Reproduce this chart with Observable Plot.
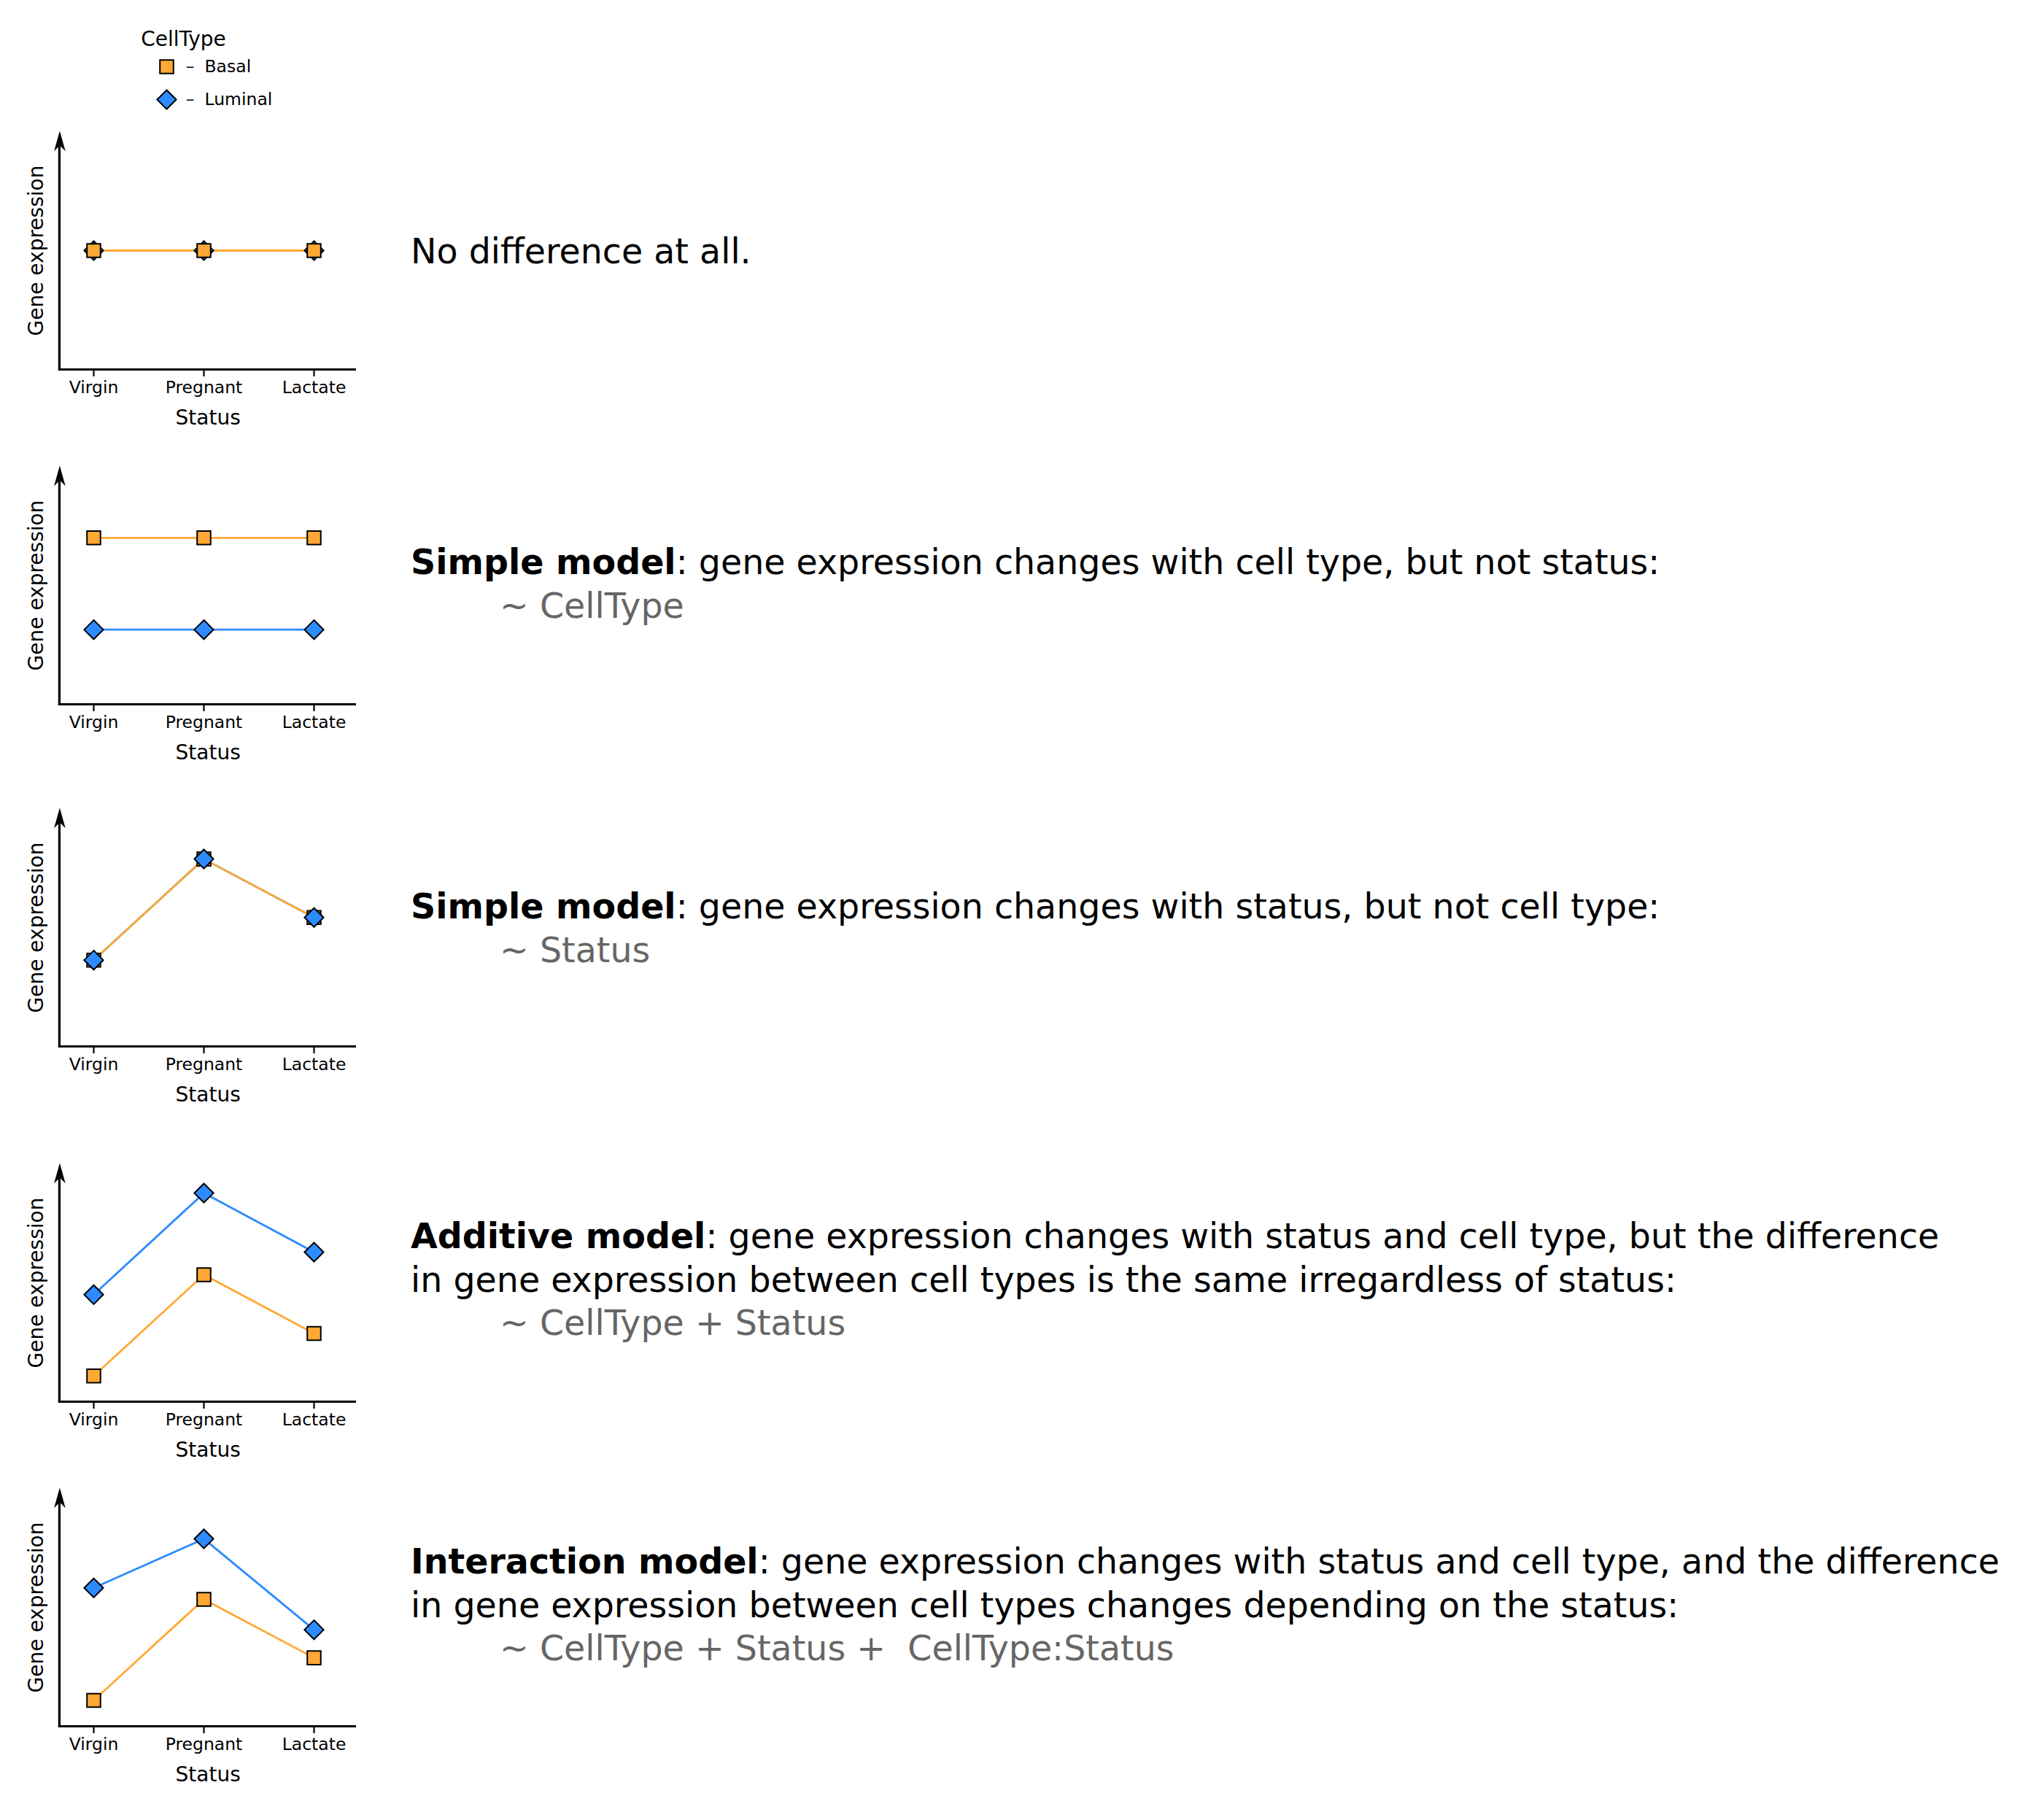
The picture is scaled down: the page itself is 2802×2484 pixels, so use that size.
<!DOCTYPE html>
<html><head><meta charset="utf-8">
<script src="https://cdn.jsdelivr.net/npm/d3@7"></script>
<script src="https://cdn.jsdelivr.net/npm/@observablehq/plot@0.6"></script>
<style>
html,body{margin:0;padding:0;background:#fff;}
body{width:2802px;height:2484px;position:relative;overflow:hidden;font-family:"DejaVu Sans",sans-serif;}
.abs{position:absolute;left:0;}
.desc{position:absolute;left:563px;font-size:47.5px;line-height:59.5px;white-space:pre;color:#000;}
.desc b{font-weight:bold;}
.formula{color:#666666;padding-left:122px;}
</style></head><body>
<script>
// ---------- data ----------
const statuses = ["Virgin", "Pregnant", "Lactate"];
const cellTypes = ["Basal", "Luminal"];

const noDiffBasal        = [5.0, 5.0, 5.0];
const noDiffLuminal      = [5.0, 5.0, 5.0];
const cellTypeBasal      = [7.0, 7.0, 7.0];
const cellTypeLuminal    = [3.14, 3.14, 3.14];
const statusBasal        = [3.63, 7.88, 5.42];
const statusLuminal      = [3.63, 7.88, 5.42];
const additiveBasal      = [1.08, 5.34, 2.87];
const additiveLuminal    = [4.50, 8.77, 6.29];
const interactionBasal   = [1.09, 5.34, 2.88];
const interactionLuminal = [5.82, 7.88, 4.06];

const boldLabels = ["", "Simple model", "Simple model", "Additive model", "Interaction model"];
const descLines = [
  ["No difference at all."],
  [": gene expression changes with cell type, but not status:"],
  [": gene expression changes with status, but not cell type:"],
  [": gene expression changes with status and cell type, but the difference",
   "in gene expression between cell types is the same irregardless of status:"],
  [": gene expression changes with status and cell type, and the difference",
   "in gene expression between cell types changes depending on the status:"]
];
const formulas = ["", "~ CellType", "~ Status", "~ CellType + Status", "~ CellType + Status +  CellType:Status"];

// ---------- styles ----------
const colors = ["#FFA833", "#2D8BFF"];
const frameH = 326;
const mTop = 12, mBottom = 95, mLeft = 81.4, mRight = 72, W = 560;
const panelTops = [179.5, 638.7, 1107.5, 1594.8, 2040.3];   // arrow tip y
const textBaselines = [361, 787, 1259, 1711, 2157];
const frontType = ["Basal", "Basal", "Luminal", "Basal", "Basal"];

const squareSym = {draw(ctx, size) { const r = Math.sqrt(size / Math.PI); const h = r * 0.9;
  ctx.moveTo(-h, -h); ctx.lineTo(h, -h); ctx.lineTo(h, h); ctx.lineTo(-h, h); ctx.closePath(); }};
const diamondSym = {draw(ctx, size) { const r = Math.sqrt(size / Math.PI); const d = r * 1.27;
  ctx.moveTo(0, -d); ctx.lineTo(d, 0); ctx.lineTo(0, d); ctx.lineTo(-d, 0); ctx.closePath(); }};
const arrowSym = {draw(ctx) {
  ctx.moveTo(0, -1); ctx.lineTo(7.8, 26.7); ctx.lineTo(0, 19); ctx.lineTo(-7.8, 26.7); ctx.closePath(); }};
const R = 10.3;

function ySpine(index, scales, values, dims) {
  const ns = "http://www.w3.org/2000/svg";
  const l = document.createElementNS(ns, "line");
  const x = dims.marginLeft;
  l.setAttribute("x1", x); l.setAttribute("x2", x);
  l.setAttribute("y1", dims.height - dims.marginBottom + 1.6);
  l.setAttribute("y2", dims.marginTop + 20);
  l.setAttribute("stroke", "black"); l.setAttribute("stroke-width", 3.2);
  return l;
}

const panels = [
  [noDiffBasal, noDiffLuminal],
  [cellTypeBasal, cellTypeLuminal],
  [statusBasal, statusLuminal],
  [additiveBasal, additiveLuminal],
  [interactionBasal, interactionLuminal]
];

panels.forEach(([basal, luminal], p) => {
  const rows = [];
  statuses.forEach((s, i) => {
    rows.push({Status: s, CellType: "Luminal", value: luminal[i]});
    rows.push({Status: s, CellType: "Basal", value: basal[i]});
  });
  const front = frontType[p];
  const back = front === "Basal" ? "Luminal" : "Basal";
  const dotMark = (type) => Plot.dot(rows.filter(d => d.CellType === type), {
    x: "Status", y: "value", fill: "CellType", r: R,
    symbol: type === "Basal" ? squareSym : diamondSym,
    stroke: "black", strokeWidth: 2
  });
  const chart = Plot.plot({
    width: W, height: mTop + frameH + mBottom,
    marginTop: mTop, marginBottom: mBottom, marginLeft: mLeft, marginRight: mRight,
    style: {fontFamily: "DejaVu Sans", fontSize: "23.5px", background: "transparent", color: "black", overflow: "visible"},
    x: {type: "point", domain: statuses, padding: 0.34, align: 0.447},
    y: {domain: [0, 10], axis: null},
    color: {domain: cellTypes, range: colors},
    marks: [
      Plot.line(rows, {x: "Status", y: "value", z: "CellType", stroke: "CellType", strokeWidth: 2.8}),
      dotMark(back),
      dotMark(front),
      Plot.ruleY([0], {strokeWidth: 3.2, insetLeft: -1.6}),
      ySpine,
      Plot.dot([0], {frameAnchor: "top-left", symbol: arrowSym, fill: "black", r: 5}),
      Plot.axisX({tickSize: 10, tickPadding: 6, fontSize: 23.5, strokeWidth: 2.2, label: null}),
      Plot.text(["Status"], {frameAnchor: "bottom", dy: 75, text: d => d, lineAnchor: "bottom", fontSize: 28}),
      Plot.text(["Gene expression"], {frameAnchor: "left", dx: -22.5, rotate: -90, text: d => d, lineAnchor: "bottom", textAnchor: "middle", fontSize: 28})
    ]
  });
  const div = document.createElement("div");
  div.className = "abs";
  div.style.top = (panelTops[p] - mTop) + "px";
  div.appendChild(chart);
  document.body.appendChild(div);

  // description text
  const t = document.createElement("div");
  t.className = "desc";
  t.style.top = (textBaselines[p] - 46) + "px";
  let html = "";
  descLines[p].forEach((line, k) => {
    if (k === 0 && boldLabels[p]) html += "<b>" + boldLabels[p] + "</b>";
    html += line + "<br>";
  });
  if (formulas[p]) html += '<span class="formula">' + formulas[p] + "</span>";
  t.innerHTML = html;
  document.body.appendChild(t);
});

// legend
const legend = Plot.plot({
  width: 420, height: 160, marginLeft: 228, marginTop: 0, marginRight: 0, marginBottom: 0,
  style: {fontFamily: "DejaVu Sans", fontSize: "23.5px", background: "transparent", color: "black", overflow: "visible"},
  y: {type: "point", domain: cellTypes, range: [91.4, 136.5], padding: 0, axis: null},
  x: {axis: null},
  color: {domain: cellTypes, range: colors},
  marks: [
    Plot.text(["CellType"], {frameAnchor: "top-left", dx: 23, dy: 62, text: d => d, textAnchor: "middle", lineAnchor: "bottom", fontSize: 28}),
    Plot.dot(cellTypes.filter(d => d === "Basal"), {y: d => d, frameAnchor: "left", fill: d => d, r: R, symbol: squareSym, stroke: "black", strokeWidth: 2}),
    Plot.dot(cellTypes.filter(d => d === "Luminal"), {y: d => d, frameAnchor: "left", fill: d => d, r: R, symbol: diamondSym, stroke: "black", strokeWidth: 2}),
    Plot.text(cellTypes, {y: d => d, frameAnchor: "left", dx: 32, text: () => "–", textAnchor: "middle", fontSize: 23.5}),
    Plot.text(cellTypes, {y: d => d, frameAnchor: "left", dx: 52, text: d => d, textAnchor: "start", fontSize: 23.5})
  ]
});
const ld = document.createElement("div");
ld.className = "abs"; ld.style.top = "0px";
ld.appendChild(legend);
document.body.appendChild(ld);
</script>
</body></html>
